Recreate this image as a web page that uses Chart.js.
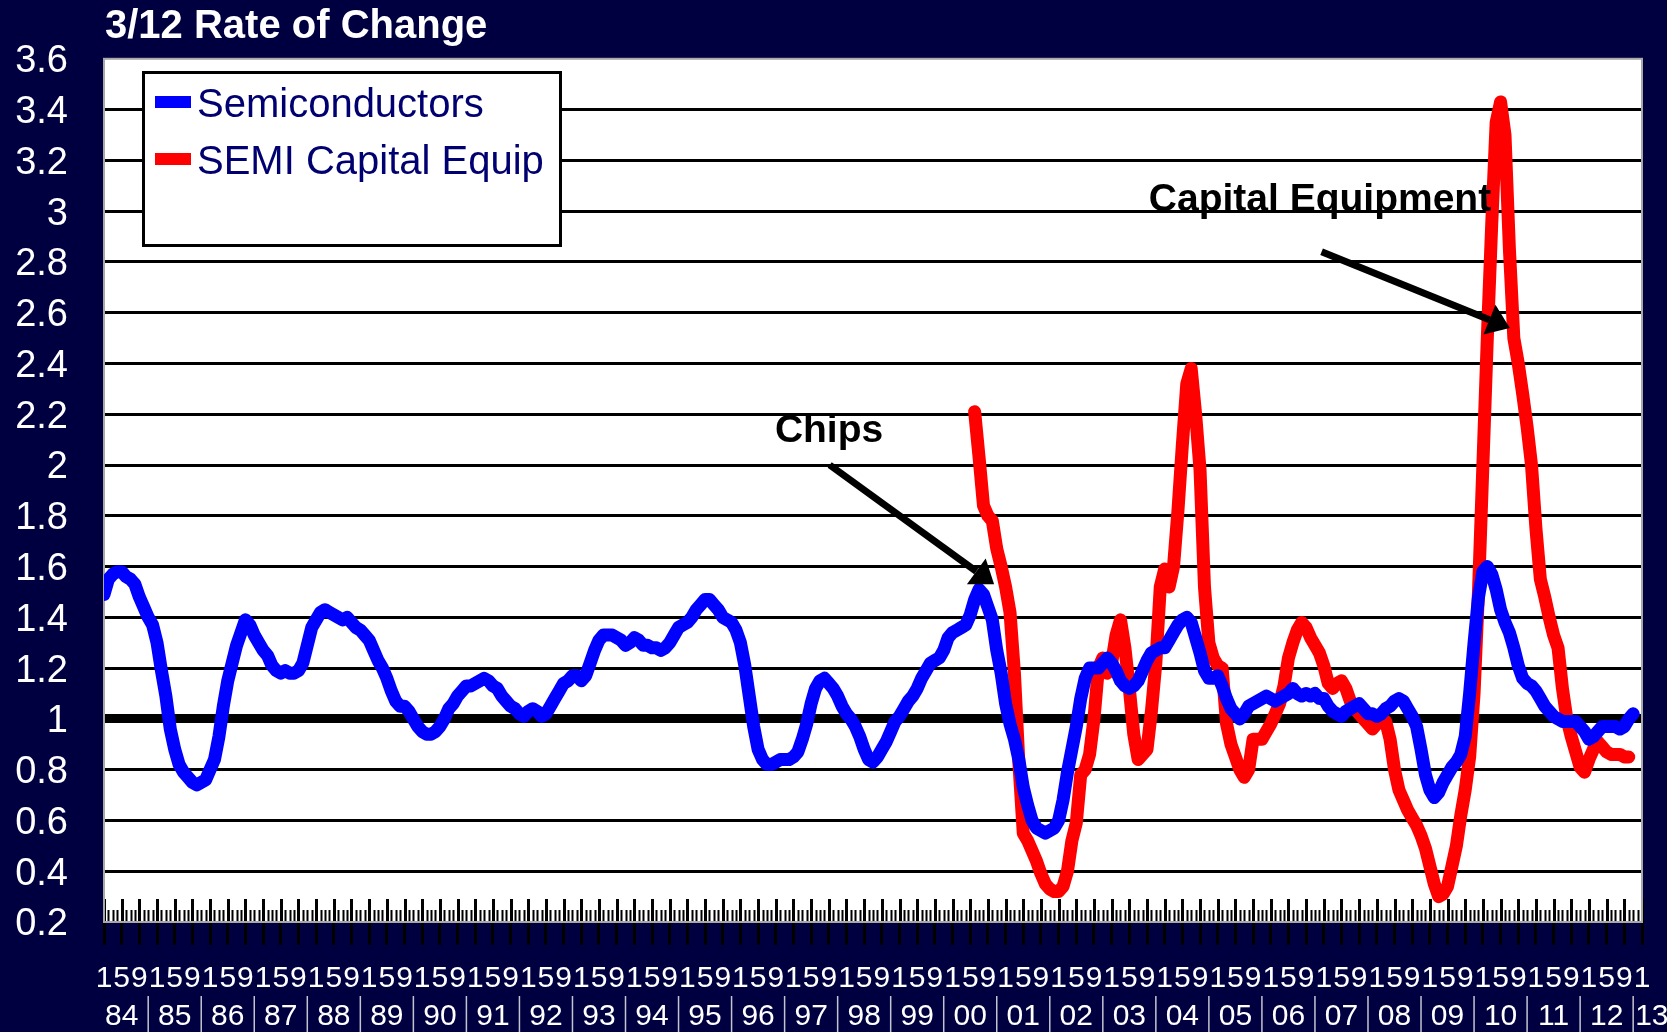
<!DOCTYPE html>
<html>
<head>
<meta charset="utf-8">
<title>3/12 Rate of Change</title>
<script src="https://cdn.jsdelivr.net/npm/chart.js@4.4.1/dist/chart.umd.min.js"></script>
<style>
  html, body { margin: 0; padding: 0; background: #000040; }
  #chart { display: block; }
</style>
</head>
<body>
<canvas id="chart" width="1667" height="1032"></canvas>
<script>
// one category per month, Jan 1984 .. Jan 2013
const years = ['84','85','86','87','88','89','90','91','92','93','94','95','96','97','98','99',
               '00','01','02','03','04','05','06','07','08','09','10','11','12','13'];
const tickMonths = [1, 5, 9];
const yTickLabels = ['0.2','0.4','0.6','0.8','1','1.2','1.4','1.6','1.8','2',
                     '2.2','2.4','2.6','2.8','3','3.2','3.4','3.6'];

const categories = [];
years.forEach((yr, k) => {
  const last = k === years.length - 1 ? 1 : 12;
  for (let mo = 1; mo <= last; mo++) categories.push(mo + '/' + yr);
});

// Semiconductors, Jan 1984 .. Nov 2012
const semis = [
  1.49, 1.55, 1.57, 1.58, 1.58, 1.56, 1.55, 1.53, 1.48, 1.44, 1.40, 1.37,
  1.30, 1.19, 1.09, 0.96, 0.88, 0.82, 0.79, 0.77, 0.75, 0.74, 0.75, 0.76,
  0.80, 0.84, 0.93, 1.05, 1.15, 1.22, 1.29, 1.34, 1.39, 1.37, 1.33, 1.30,
  1.27, 1.25, 1.21, 1.19, 1.18, 1.19, 1.18, 1.18, 1.19, 1.22, 1.29, 1.36,
  1.39, 1.42, 1.43, 1.42, 1.41, 1.40, 1.39, 1.40, 1.38, 1.36, 1.35, 1.33,
  1.31, 1.27, 1.23, 1.20, 1.16, 1.11, 1.07, 1.05, 1.05, 1.03, 1.00, 0.97,
  0.95, 0.94, 0.94, 0.95, 0.97, 1.00, 1.04, 1.06, 1.09, 1.11, 1.13, 1.13,
  1.14, 1.15, 1.16, 1.15, 1.13, 1.12, 1.09, 1.07, 1.05, 1.04, 1.02, 1.01,
  1.03, 1.04, 1.03, 1.01, 1.02, 1.05, 1.08, 1.11, 1.14, 1.15, 1.17, 1.17,
  1.15, 1.17, 1.22, 1.27, 1.31, 1.33, 1.33, 1.33, 1.32, 1.31, 1.29, 1.30,
  1.32, 1.31, 1.29, 1.29, 1.28, 1.28, 1.27, 1.28, 1.30, 1.33, 1.36, 1.37,
  1.38, 1.40, 1.43, 1.45, 1.47, 1.47, 1.45, 1.43, 1.40, 1.39, 1.38, 1.35,
  1.30, 1.21, 1.09, 0.97, 0.88, 0.84, 0.82, 0.82, 0.83, 0.84, 0.84, 0.84,
  0.85, 0.87, 0.92, 0.98, 1.06, 1.12, 1.15, 1.16, 1.14, 1.12, 1.09, 1.05,
  1.02, 1.00, 0.97, 0.93, 0.88, 0.84, 0.83, 0.85, 0.88, 0.91, 0.95, 0.99,
  1.01, 1.04, 1.07, 1.09, 1.12, 1.16, 1.19, 1.22, 1.23, 1.24, 1.27, 1.32,
  1.34, 1.35, 1.36, 1.37, 1.41, 1.47, 1.51, 1.49, 1.44, 1.39, 1.27, 1.18,
  1.06, 0.98, 0.92, 0.84, 0.73, 0.66, 0.60, 0.57, 0.56, 0.55, 0.56, 0.57,
  0.60, 0.68, 0.79, 0.88, 0.97, 1.08, 1.16, 1.20, 1.20, 1.20, 1.22, 1.24,
  1.22, 1.19, 1.15, 1.13, 1.12, 1.13, 1.15, 1.19, 1.23, 1.26, 1.27, 1.28,
  1.28, 1.31, 1.34, 1.37, 1.39, 1.40, 1.38, 1.32, 1.26, 1.19, 1.16, 1.16,
  1.17, 1.13, 1.08, 1.04, 1.02, 1.00, 1.02, 1.05, 1.06, 1.07, 1.08, 1.09,
  1.08, 1.07, 1.08, 1.09, 1.10, 1.12, 1.10, 1.09, 1.10, 1.09, 1.10, 1.08,
  1.08, 1.05, 1.03, 1.02, 1.01, 1.03, 1.04, 1.05, 1.06, 1.04, 1.02, 1.02,
  1.01, 1.02, 1.04, 1.05, 1.07, 1.08, 1.07, 1.04, 1.01, 0.97, 0.88, 0.78,
  0.72, 0.69, 0.71, 0.75, 0.78, 0.81, 0.83, 0.86, 0.93, 1.10, 1.30, 1.48,
  1.58, 1.60, 1.57, 1.51, 1.43, 1.38, 1.34, 1.28, 1.21, 1.16, 1.14, 1.13,
  1.11, 1.08, 1.05, 1.03, 1.01, 1.00, 0.99, 0.99, 0.99, 0.99, 0.97, 0.95,
  0.92, 0.93, 0.95, 0.97, 0.97, 0.97, 0.97, 0.96, 0.97, 1.00, 1.02
];

// SEMI capital equipment, Jun 2000 .. Oct 2012
const capEquipStart = '6/00';
const capEquip = [
                                    2.21, 2.03, 1.84, 1.80, 1.78, 1.67, 1.60,
  1.52, 1.42, 1.18, 0.83, 0.55, 0.52, 0.48, 0.44, 0.39, 0.35, 0.33, 0.32,
  0.32, 0.34, 0.40, 0.52, 0.59, 0.78, 0.80, 0.86, 1.00, 1.20, 1.24, 1.18,
  1.22, 1.33, 1.39, 1.28, 1.12, 0.94, 0.84, 0.86, 0.88, 1.03, 1.22, 1.52,
  1.59, 1.52, 1.60, 1.82, 2.08, 2.32, 2.38, 2.20, 1.98, 1.52, 1.30, 1.24,
  1.21, 1.20, 0.98, 0.90, 0.85, 0.80, 0.77, 0.80, 0.92, 0.92, 0.92, 0.95,
  0.98, 1.02, 1.06, 1.13, 1.24, 1.30, 1.35, 1.38, 1.36, 1.32, 1.29, 1.26,
  1.21, 1.14, 1.12, 1.14, 1.15, 1.12, 1.07, 1.04, 1.02, 1.00, 0.98, 0.96,
  0.98, 1.00, 0.99, 0.92, 0.80, 0.72, 0.68, 0.64, 0.61, 0.58, 0.54, 0.49,
  0.42, 0.35, 0.30, 0.31, 0.34, 0.42, 0.50, 0.62, 0.72, 0.85, 1.10, 1.50,
  2.00, 2.50, 2.95, 3.35, 3.43, 3.30, 2.85, 2.50, 2.40, 2.28, 2.15, 2.00,
  1.75, 1.55, 1.48, 1.40, 1.33, 1.28, 1.12, 1.00, 0.93, 0.87, 0.81, 0.79,
  0.84, 0.88, 0.91, 0.89, 0.87, 0.86, 0.86, 0.86, 0.85, 0.85
];

// callouts, in (category index, value) space
const notes = [
  { text: 'Chips', at: [151.8, 2.09], from: [164.2, 2.0], to: [201.4, 1.53] },
  { text: 'Capital Equipment', at: [236.4, 3.0], from: [275.5, 2.84], to: [318.1, 2.54] }
];

const FONT = '"Liberation Sans", Arial, sans-serif';
const NAVY = '#000040';

const isMajor = i => tickMonths.includes(+categories[i].split('/')[0]);

const capData = new Array(categories.indexOf(capEquipStart)).fill(null).concat(capEquip);

function arrow(ctx, x0, y0, x1, y1) {
  const a = Math.atan2(y1 - y0, x1 - x0);
  const len = 22, half = 16;
  const bx = x1 - len * Math.cos(a), by = y1 - len * Math.sin(a);
  ctx.lineWidth = 7;
  ctx.beginPath();
  ctx.moveTo(x0, y0);
  ctx.lineTo(bx, by);
  ctx.stroke();
  ctx.beginPath();
  ctx.moveTo(x1, y1);
  ctx.lineTo(bx + half * Math.sin(a), by - half * Math.cos(a));
  ctx.lineTo(bx - half * Math.sin(a), by + half * Math.cos(a));
  ctx.closePath();
  ctx.fill();
}

const decor = {
  id: 'decor',
  beforeDraw(chart) {
    const { ctx, chartArea: a } = chart;
    ctx.save();
    ctx.fillStyle = NAVY;
    ctx.fillRect(0, 0, chart.width, chart.height);
    ctx.fillStyle = '#ffffff';
    ctx.fillRect(a.left, a.top, a.right - a.left, a.bottom - a.top);
    ctx.restore();
  },
  beforeDatasetsDraw(chart) {
    const { ctx, chartArea: a, scales: { x } } = chart;
    ctx.save();
    // tick marks standing up inside the plot, one per month
    ctx.strokeStyle = '#000';
    categories.forEach((c, i) => {
      const px = Math.round(x.getPixelForValue(i)) + 0.5;
      const major = isMajor(i);
      ctx.lineWidth = major ? 3 : 2;
      ctx.beginPath();
      ctx.moveTo(px, a.bottom);
      ctx.lineTo(px, a.bottom - (major ? 23 : 12));
      ctx.stroke();
    });
    ctx.strokeStyle = '#a8a8a8';
    ctx.lineWidth = 2;
    ctx.strokeRect(a.left, a.top, a.right - a.left, a.bottom - a.top);
    ctx.restore();
  },
  afterDatasetsDraw(chart) {
    const { ctx, scales: { x, y } } = chart;
    ctx.save();
    ctx.fillStyle = '#000';
    ctx.strokeStyle = '#000';
    ctx.font = 'bold 39px ' + FONT;
    ctx.textBaseline = 'alphabetic';
    notes.forEach(n => {
      ctx.fillText(n.text, x.getPixelForValue(n.at[0]), y.getPixelForValue(n.at[1]));
      arrow(ctx, x.getPixelForValue(n.from[0]), y.getPixelForValue(n.from[1]),
                 x.getPixelForValue(n.to[0]), y.getPixelForValue(n.to[1]));
    });
    ctx.restore();
  },
  afterDraw(chart) {
    const { ctx, scales: { x } } = chart;
    ctx.save();
    // title
    ctx.fillStyle = '#ffffff';
    ctx.font = 'bold 40px ' + FONT;
    ctx.textBaseline = 'alphabetic';
    ctx.fillText('3/12 Rate of Change', 105, 38);

    // legend box
    ctx.fillStyle = '#ffffff';
    ctx.fillRect(143.5, 72.5, 417, 173);
    ctx.strokeStyle = '#000';
    ctx.lineWidth = 3;
    ctx.strokeRect(143.5, 72.5, 417, 173);
    ctx.font = '40px ' + FONT;
    chart.data.datasets.forEach((ds, k) => {
      const cy = 102 + k * 57;
      ctx.fillStyle = ds.borderColor;
      ctx.fillRect(155, cy - 6, 36, 12);
      ctx.fillStyle = '#000070';
      ctx.fillText(ds.label, 197, cy + 15);
    });

    // year row under the month numbers, with group breaks
    ctx.font = '30px ' + FONT;
    ctx.fillStyle = '#ffffff';
    ctx.strokeStyle = '#c4c4d0';
    ctx.lineWidth = 1.5;
    years.forEach((yr, k) => {
      const sep = x.getPixelForValue(k * 12 - 2);
      if (k > 0) {
        ctx.beginPath();
        ctx.moveTo(sep, 996);
        ctx.lineTo(sep, chart.height);
        ctx.stroke();
      }
      if (k === years.length - 1) {
        ctx.textAlign = 'left';
        ctx.fillText(yr, sep + 2, 1025);
      } else {
        ctx.textAlign = 'center';
        ctx.fillText(yr, x.getPixelForValue(k * 12 + 4), 1025);
      }
    });
    ctx.restore();
  }
};

new Chart(document.getElementById('chart'), {
  type: 'line',
  data: {
    labels: categories,
    datasets: [{
      label: 'Semiconductors',
      data: semis,
      borderColor: '#0000ff',
      borderWidth: 13,
      pointRadius: 0,
      tension: 0,
      borderJoinStyle: 'round',
      borderCapStyle: 'round',
      clip: 0
    }, {
      label: 'SEMI Capital Equip',
      data: capData,
      borderColor: '#ff0000',
      borderWidth: 13,
      pointRadius: 0,
      tension: 0,
      borderJoinStyle: 'round',
      borderCapStyle: 'round',
      clip: 0
    }]
  },
  options: {
    responsive: false,
    animation: false,
    events: [],
    layout: { padding: { top: 58, right: 25, bottom: 0, left: 0 } },
    plugins: {
      legend: { display: false },
      tooltip: { enabled: false },
      title: { display: false }
    },
    scales: {
      x: {
        type: 'category',
        offset: false,
        afterFit: s => { s.height = 110; },
        border: { display: false },
        grid: {
          drawOnChartArea: false,
          drawTicks: true,
          tickLength: 23,
          tickWidth: 3,
          tickColor: c => isMajor(c.index) ? '#000' : 'rgba(0,0,0,0)'
        },
        ticks: {
          autoSkip: false,
          maxRotation: 0,
          minRotation: 0,
          padding: 16,
          color: '#ffffff',
          font: { family: FONT, size: 30 },
          callback: (v, i) => isMajor(i) ? categories[i].split('/')[0] : ''
        }
      },
      y: {
        min: 0.2,
        max: 3.6,
        afterFit: s => { s.width = 104; },
        border: { display: false },
        grid: {
          drawTicks: false,
          color: c => (c.index === 0 || c.index === yTickLabels.length - 1) ? 'rgba(0,0,0,0)' : '#000',
          lineWidth: c => c.index === 4 ? 9 : 3
        },
        ticks: {
          stepSize: 0.2,
          padding: 36,
          labelOffset: 3,
          color: '#ffffff',
          font: { family: FONT, size: 38 },
          callback: (v, i) => yTickLabels[i]
        }
      }
    }
  },
  plugins: [decor]
});
</script>
</body>
</html>
